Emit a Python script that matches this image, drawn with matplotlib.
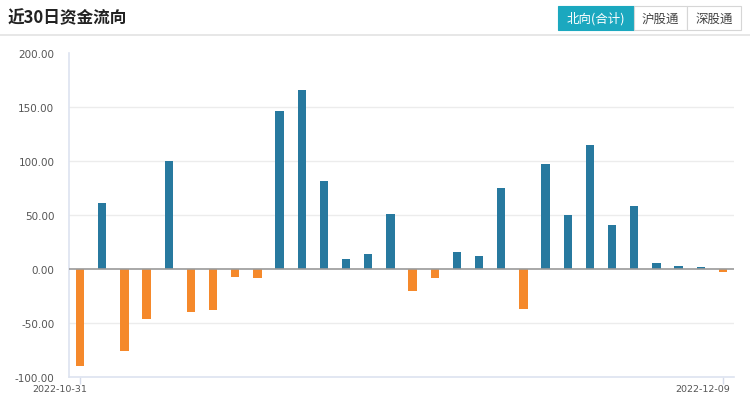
import matplotlib
matplotlib.use("Agg")
import matplotlib.pyplot as plt
import matplotlib.transforms as mtransforms
from matplotlib.patches import Rectangle
from matplotlib.lines import Line2D

dates = ["2022-10-31", "2022-11-01", "2022-11-02", "2022-11-03", "2022-11-04",
         "2022-11-07", "2022-11-08", "2022-11-09", "2022-11-10", "2022-11-11",
         "2022-11-14", "2022-11-15", "2022-11-16", "2022-11-17", "2022-11-18",
         "2022-11-21", "2022-11-22", "2022-11-23", "2022-11-24", "2022-11-25",
         "2022-11-28", "2022-11-29", "2022-11-30", "2022-12-01", "2022-12-02",
         "2022-12-05", "2022-12-06", "2022-12-07", "2022-12-08", "2022-12-09"]
net_flow = [-89.8, 61.1, -75.6, -46.0, 100.3,
            -40.1, -38.3, -7.1, -8.0, 146.6,
            166.0, 81.5, 9.6, 14.2, 51.2,
            -20.7, -8.0, 15.7, 12.0, 75.0,
            -37.3, 97.5, 49.7, 114.5, 41.0,
            58.6, 5.9, 3.1, 2.2, -3.1]
y_ticks = [-100, -50, 0, 50, 100, 150, 200]
title = "近30日资金流向"
buttons = ["北向(合计)", "沪股通", "深股通"]

W, H = 750, 406
CJK = ["Noto Sans CJK SC", "DejaVu Sans"]
BLUE = "#27799f"
ORANGE = "#f5892b"


def fx(px):
    return px / W


def fy(py):
    return 1 - py / H


def main():
    fig = plt.figure(figsize=(W / 100, H / 100), dpi=100)
    fig.patch.set_facecolor("white")

    # header
    fig.text(fx(8), fy(18), title, family=CJK, fontsize=12, fontweight="bold",
             color="#222222", va="center", ha="left")
    fig.add_artist(Line2D([0, 1], [fy(35.5), fy(35.5)], transform=fig.transFigure,
                          color="#e3e3e3", lw=1.2))

    btn_x = [558, 634, 687, 741]
    for i, label in enumerate(buttons):
        x0, x1 = btn_x[i], btn_x[i + 1]
        active = i == 0
        fig.add_artist(Rectangle((fx(x0), fy(31)), fx(x1 - x0), (31 - 7) / H,
                                 transform=fig.transFigure,
                                 facecolor="#1ba8bf" if active else "white",
                                 edgecolor="#1ba8bf" if active else "#d6d6d6",
                                 lw=0.8))
        fig.text(fx((x0 + x1) / 2), fy(19), label, family=CJK, fontsize=9,
                 color="white" if active else "#444444", ha="center", va="center")

    ax = fig.add_axes([fx(69), fy(378), fx(734 - 69), (378 - 54) / H])
    x = list(range(len(dates)))
    colors = [BLUE if v >= 0 else ORANGE for v in net_flow]
    ax.bar(x, net_flow, width=0.37, color=colors, zorder=3)

    ax.set_xlim(-0.5, len(dates) - 0.5)
    ax.set_ylim(y_ticks[0], y_ticks[-1])
    ax.set_yticks(y_ticks)
    ax.set_yticklabels([f"{v:.2f}" for v in y_ticks], fontsize=7.5, color="#555555")
    for v in y_ticks[1:-1]:
        if v == 0:
            ax.axhline(0, color="#9a9a9a", lw=1.2, zorder=4)
        else:
            ax.axhline(v, color="#ececec", lw=1, zorder=1)

    # only first and last dates are labelled, set a little right of the tick
    ax.set_xticks([0, len(dates) - 1])
    ax.set_xticklabels([])
    shift = mtransforms.ScaledTranslation(7 / 100, -7 / 100, fig.dpi_scale_trans)
    trans = ax.get_xaxis_transform() + shift
    for i in (0, len(dates) - 1):
        ax.text(i, 0, dates[i], transform=trans, fontsize=6.8, color="#555555",
                ha="right", va="top")
    ax.tick_params(axis="x", length=5, color="#d5dbea", width=1, pad=2)
    ax.tick_params(axis="y", length=0, pad=10.5)

    for side in ["top", "right"]:
        ax.spines[side].set_visible(False)
    for side in ["left", "bottom"]:
        ax.spines[side].set_color("#dde3f0")
        ax.spines[side].set_linewidth(1.2)

    fig.savefig("out.png", dpi=100, facecolor="white")


if __name__ == "__main__":
    main()
